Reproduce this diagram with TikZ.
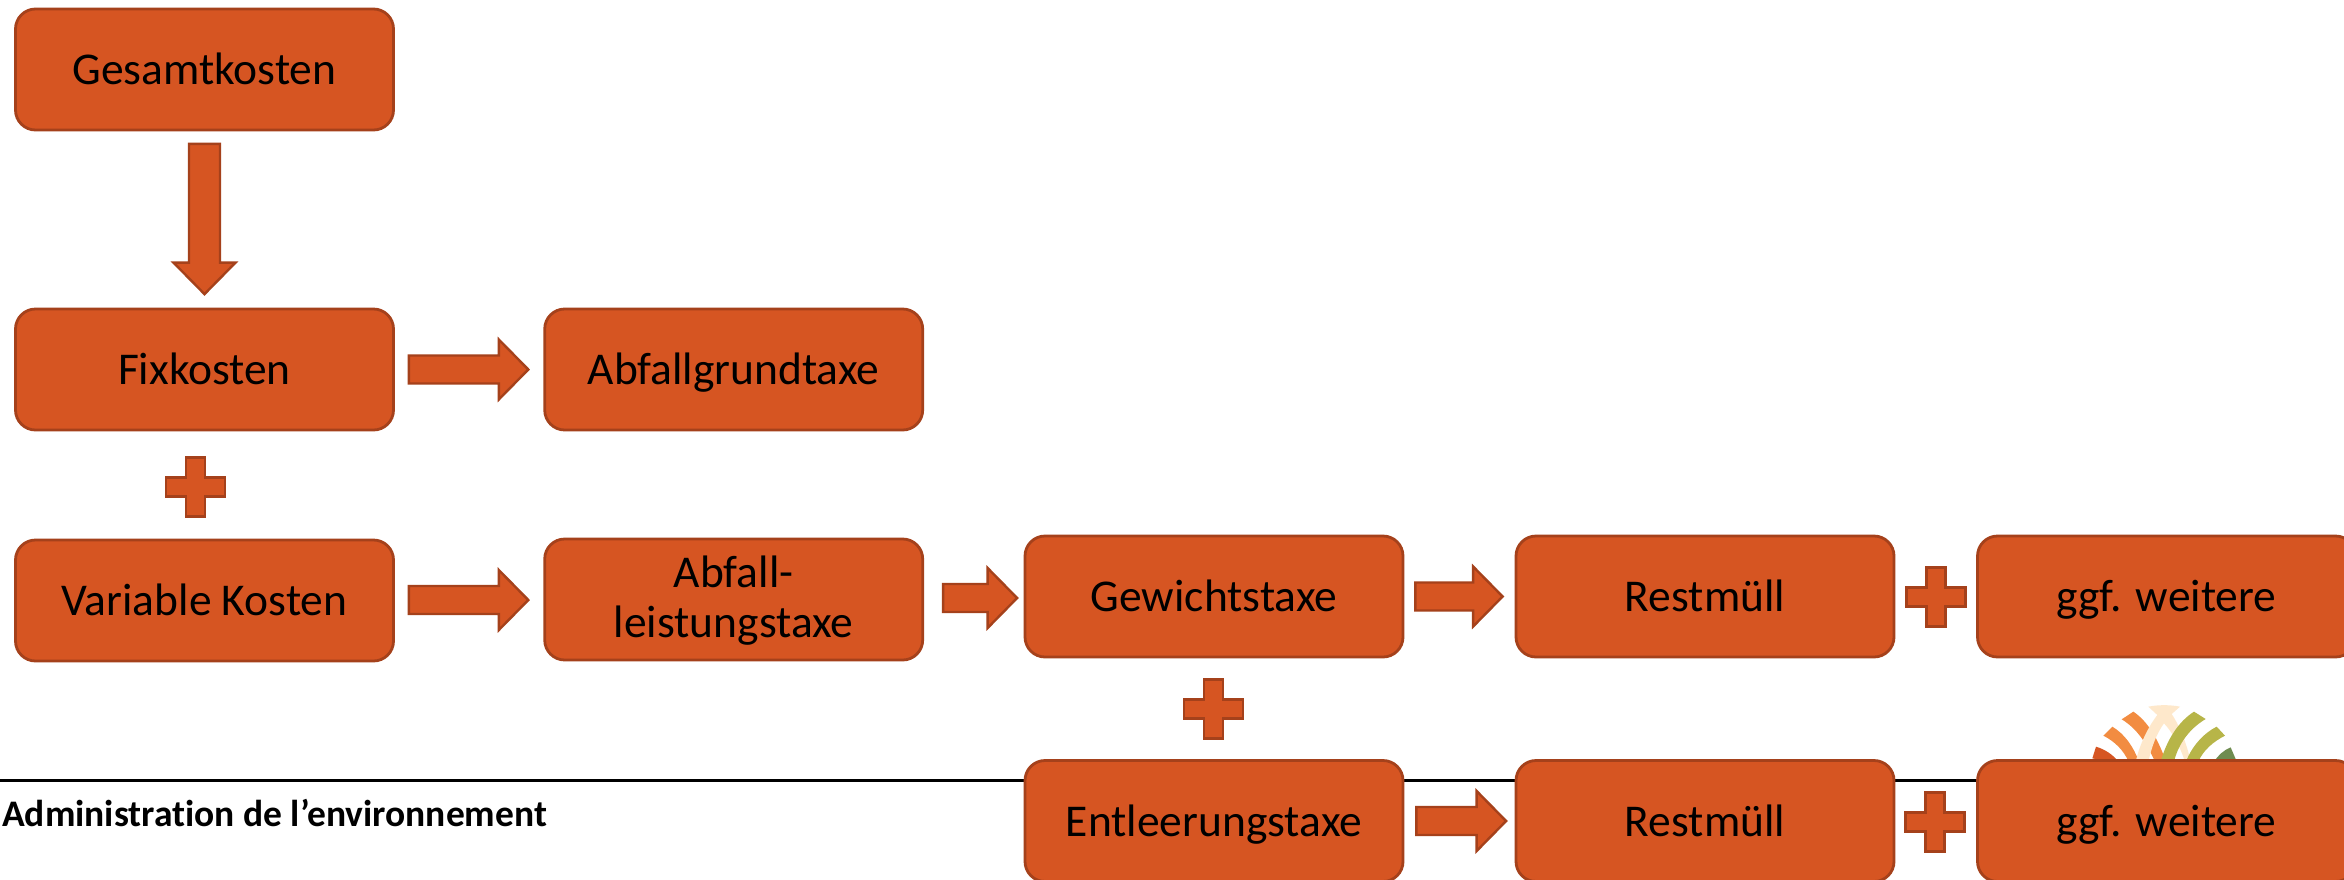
\documentclass[tikz,border=0pt]{standalone}
\usepackage{fontspec}
\setmainfont[Ligatures=NoCommon]{Carlito}
\usetikzlibrary{calc}
\definecolor{boxfill}{HTML}{D65522}
\definecolor{boxedge}{HTML}{A5411B}
\definecolor{logored}{HTML}{D65522}
\definecolor{logoorange}{HTML}{F28C41}
\definecolor{logocream}{HTML}{FEE8CB}
\definecolor{logoolive}{HTML}{B7B548}
\definecolor{logogreen}{HTML}{6F8C50}
\tikzset{
  flowbox/.style={draw=boxedge,fill=boxfill,line width=2.8pt,rounded corners=20pt,
    minimum width=378pt,minimum height=121pt,inner sep=0pt,text=black,
    font=\fontsize{45.5}{50}\selectfont,text height=42pt,text depth=12pt,anchor=center},
  blockshape/.style={draw=boxedge,fill=boxfill,line width=2.4pt,miter limit=10},
  footrule/.style={draw=black,line width=3pt},
  footlabel/.style={anchor=base west,inner sep=0pt,font=\fontsize{37.5}{44}\selectfont\bfseries,text=black},
  plussign/.pic={\draw[blockshape] (-9.5,-29.5) -- (9.5,-29.5) -- (9.5,-9.5) -- (29.5,-9.5) -- (29.5,9.5) -- (9.5,9.5) -- (9.5,29.5) -- (-9.5,29.5) -- (-9.5,9.5) -- (-29.5,9.5) -- (-29.5,-9.5) -- (-9.5,-9.5) -- cycle;}
}
% from, to, gap at tail, gap at tip
\newcommand{\rightblock}[4]{%
  \draw[blockshape] let \p1=(#1.east),\p2=(#2.west),\n1={0.5*(\y1+\y2)} in
   (\x1+#3pt+1pt,\n1+14pt) -- (\x2-#4pt-31pt,\n1+14pt) -- (\x2-#4pt-31pt,\n1+30pt) -- (\x2-#4pt-1.5pt,\n1) -- (\x2-#4pt-31pt,\n1-30pt) -- (\x2-#4pt-31pt,\n1-14pt) -- (\x1+#3pt+1pt,\n1-14pt) -- cycle;}
\begin{document}
\begin{tikzpicture}[x=1pt,y=-1pt]
\clip (0,0) rectangle (2344,879);
\fill[white] (0,0) rectangle (2344,879);
% footer
\coordinate (ruleL) at (0,780.5);
\coordinate (ruleR) at (2344,780.5);
\draw[footrule] (ruleL) -- (ruleR);
\node[footlabel] (admin) at (2,826) {Administration de l’environnement};
% logo
\begin{scope}[shift={(2070,690)},x=0.3333pt,y=-0.3333pt]
\fill[logored] (78,170) .. controls (105,178) and (130,195) .. (145,215) -- (100,215) .. controls (90,210) and (78,207) .. (67,205) -- cycle;
\fill[logoorange] (100,137) -- (127,110) .. controls (165,133) and (190,170) .. (207,215) -- (176,215) .. controls (160,180) and (135,155) .. cycle;
\fill[logoorange] (155,88) -- (190,65) .. controls (235,95) and (265,150) .. (288,215) -- (255,215) .. controls (230,160) and (200,115) .. cycle;
\fill[logocream] (235,50) .. controls (265,44) and (300,44) .. (330,50) -- (305,72) .. controls (330,110) and (350,160) .. (362,215) -- (345,215) .. controls (330,170) and (310,130) .. (282,100) .. controls (260,130) and (245,170) .. (235,215) -- (197,215) .. controls (210,160) and (235,110) .. (262,75) -- cycle;
\fill[logoolive] (372,65) -- (407,87) .. controls (360,115) and (325,160) .. (312,215) -- (272,215) .. controls (290,150) and (325,95) .. cycle;
\fill[logoolive] (440,110) -- (465,137) .. controls (430,155) and (400,180) .. (385,215) -- (348,215) .. controls (365,170) and (400,130) .. cycle;
\fill[logogreen] (482,172) -- (497,207) .. controls (480,208) and (470,212) .. (460,215) -- (432,215) .. controls (445,195) and (462,180) .. cycle;
\end{scope}
% boxes
\node[flowbox] (gesamt) at (204.5,69.5) {Gesamtkosten};
\node[flowbox] (fix) at (204.5,369.5) {Fixkosten};
\node[flowbox] (grund) at (733.7,369.5) {Abfallgrundtaxe};
\node[flowbox] (var) at (204.5,600.5) {Variable Kosten};
\node[flowbox,align=center,text height=89pt,text depth=14pt] (leistung) at (733.7,599.5) {Abfall-\\leistungstaxe};
\node[flowbox] (gewicht) at (1214,596.5) {Gewichtstaxe};
\node[flowbox] (rest1) at (1705,596.5) {Restmüll};
\node[flowbox] (ggf1) at (2166.5,596.5) {ggf. weitere};
\node[flowbox] (entleer) at (1214,821) {Entleerungstaxe};
\node[flowbox] (rest2) at (1705,821) {Restmüll};
\node[flowbox] (ggf2) at (2166.5,821) {ggf. weitere};
% block arrows
\draw[blockshape] let \p1=(gesamt.south),\p2=(fix.north) in
  (\x1-15.5pt,\y1-12.5pt) -- (\x1+15.5pt,\y1-12.5pt) -- (\x1+15.5pt,\y2+45pt) -- (\x1+31pt,\y2+45pt) -- (\x1,\y2+13.5pt) -- (\x1-31pt,\y2+45pt) -- (\x1-15.5pt,\y2+45pt) -- cycle;
\rightblock{fix}{grund}{13}{13.5}
\rightblock{var}{leistung}{13}{13.5}
\rightblock{leistung}{gewicht}{18}{5}
\rightblock{gewicht}{rest1}{10}{10.5}
\rightblock{entleer}{rest2}{11}{7}
% plus signs
\pic at (195.5,487) {plussign};
\pic at (1213.5,709) {plussign};
\pic at (1936,597) {plussign};
\pic at (1935,822) {plussign};
\end{tikzpicture}
\end{document}
